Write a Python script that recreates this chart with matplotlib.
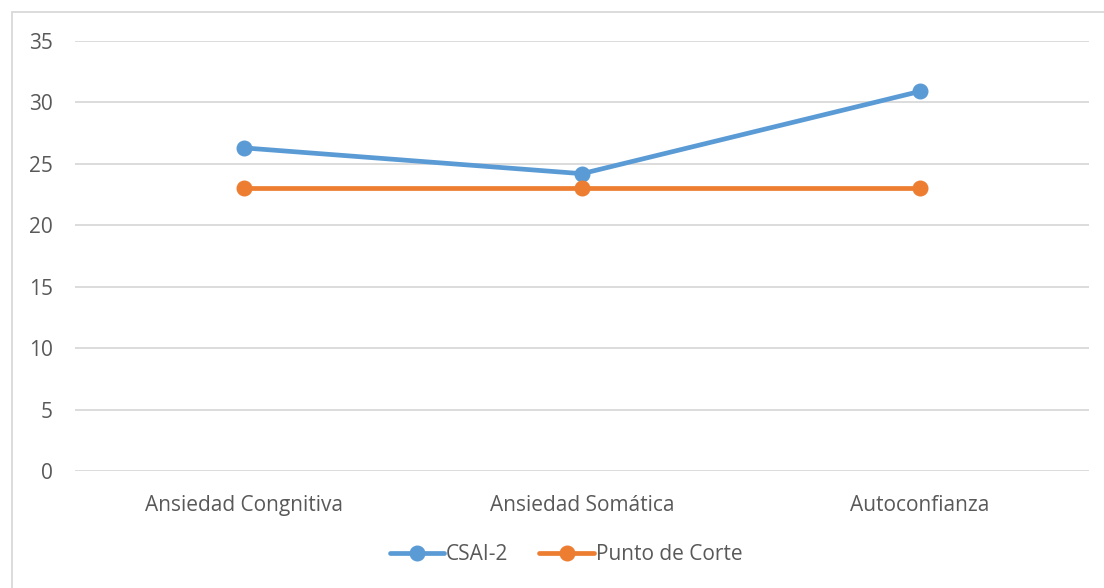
import matplotlib
matplotlib.use("Agg")
import matplotlib.pyplot as plt
from matplotlib.patches import Rectangle

categories = ["Ansiedad Congnitiva", "Ansiedad Somática", "Autoconfianza"]
csai2 = [26.3, 24.2, 30.9]
punto_corte = [23, 23, 23]
yticks = [0, 5, 10, 15, 20, 25, 30, 35]

plt.rcParams['font.family'] = ['Open Sans', 'DejaVu Sans']
TXT = '#595959'
GRID = '#D9D9D9'

W, H = 1104, 588
fig = plt.figure(figsize=(W/100, H/100), dpi=100)
ax = fig.add_axes([75/W, 1-471/H, (1089-75)/W, (471-41)/H])

x = list(range(len(categories)))
l1, = ax.plot(x, csai2, color='#5B9BD5', lw=3.4, marker='o', ms=10.5, solid_capstyle='round', label='CSAI-2', zorder=3)
l2, = ax.plot(x, punto_corte, color='#ED7D31', lw=3.4, marker='o', ms=10.5, solid_capstyle='round', label='Punto de Corte', zorder=3)

ax.set_xlim(-0.5, 2.5)
ax.set_ylim(0, 35)
ax.set_yticks(yticks)
ax.set_xticks(x)
ax.set_xticklabels(categories)
ax.yaxis.grid(True, color=GRID, lw=1.3)
ax.set_axisbelow(True)
for s in ax.spines.values():
    s.set_visible(False)
ax.tick_params(axis='both', length=0, labelsize=15, labelcolor=TXT)
ax.tick_params(axis='y', pad=16)
ax.tick_params(axis='x', pad=17)

leg = fig.legend(handles=[l1, l2], loc='center', bbox_to_anchor=(566/W, 1-555/H), ncol=2,
                 frameon=False, fontsize=15, labelcolor=TXT, handlelength=2.6,
                 handletextpad=0.1, columnspacing=1.5)

fig.patches.append(Rectangle((12/W, -0.01), 1.0, 1-12/H+0.01, transform=fig.transFigure,
                             fill=False, edgecolor=GRID, lw=1.3))

fig.savefig('out.png', dpi=100)
